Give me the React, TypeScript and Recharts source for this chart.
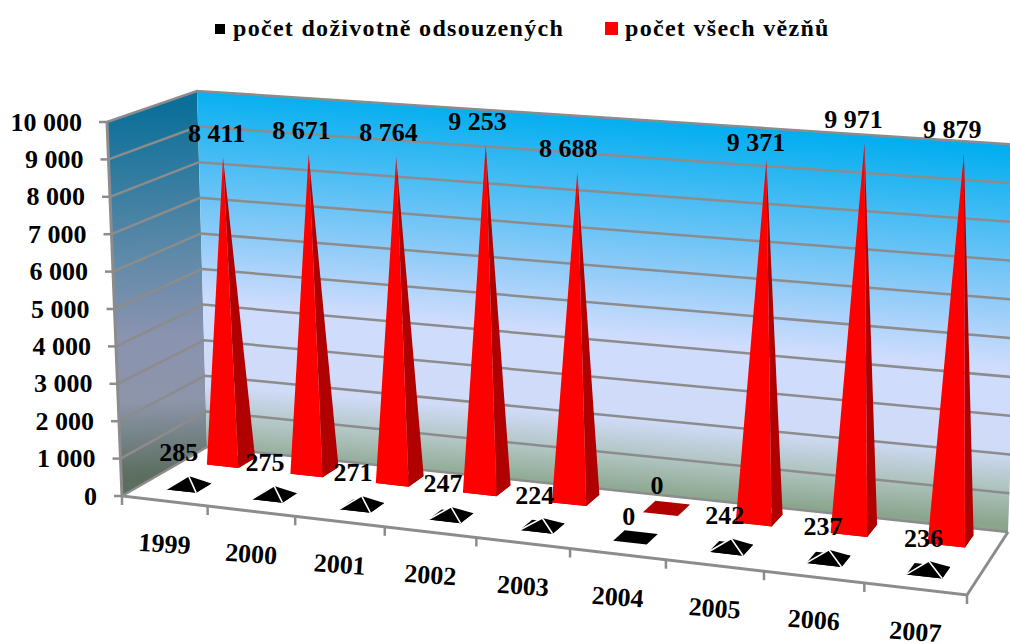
import React from "react";
import {
  Bar,
  BarChart,
  Customized,
  LabelList,
  Legend,
  XAxis,
  YAxis,
} from "recharts";

const years = ["1999", "2000", "2001", "2002", "2003", "2004", "2005", "2006", "2007"];
const lifers = [285, 275, 271, 247, 224, 0, 242, 237, 236];
const prisoners = [8411, 8671, 8764, 9253, 8688, 0, 9371, 9971, 9879];
const yTicks = [0, 1000, 2000, 3000, 4000, 5000, 6000, 7000, 8000, 9000, 10000];
const yMax = 10000;

const chartData = years.map((year, i) => ({ year, lifers: lifers[i], prisoners: prisoners[i] }));

const W = 1010;
const H = 644;
// y axis (100 wide) and x axis (30 high) take up the rest of the 100px sides
const MARGIN = { top: 100, right: 10, bottom: 70, left: 0 };
const PLOT_LEFT = 100;
const PLOT_W = W - PLOT_LEFT - MARGIN.right;
const PLOT_H = H - MARGIN.top - 100;
const FONT = '"Liberation Serif", serif';
const GREY = "#8c8c8c";

type Pt = [number, number];

// unit square -> quad, order: front-left, front-right, back-right, back-left
function homography([p0, p1, p2, p3]: Pt[]) {
  const dx1 = p1[0] - p2[0];
  const dx2 = p3[0] - p2[0];
  const sx = p0[0] - p1[0] + p2[0] - p3[0];
  const dy1 = p1[1] - p2[1];
  const dy2 = p3[1] - p2[1];
  const sy = p0[1] - p1[1] + p2[1] - p3[1];
  const den = dx1 * dy2 - dx2 * dy1;
  const g = (sx * dy2 - dx2 * sy) / den;
  const h = (dx1 * sy - sx * dy1) / den;
  const a = p1[0] - p0[0] + g * p1[0];
  const b = p3[0] - p0[0] + h * p3[0];
  const d = p1[1] - p0[1] + g * p1[1];
  const e = p3[1] - p0[1] + h * p3[1];
  return (u: number, t: number): Pt => {
    const w = g * u + h * t + 1;
    return [(a * u + b * t + p0[0]) / w, (d * u + e * t + p0[1]) / w];
  };
}

const floorAt = homography([[122, 496], [967, 595], [1008, 532], [207, 447]]);
const ceilAt = homography([[107, 122], [985, 180], [1022, 145], [197, 91]]);

// u: along the years, t: depth (0 front, 1 back), v: value share of the axis
// the small bends in u fit the spacing seen in the picture
function project(u: number, t: number, v: number): Pt {
  const f = floorAt(u + 0.047 * u * (1 - u), t);
  const c = ceilAt(u - 0.079 * u * (1 - u), t);
  return [f[0] + (c[0] - f[0]) * v, f[1] + (c[1] - f[1]) * v];
}

const toU = (x: number) => (x - PLOT_LEFT) / PLOT_W;
const toV = (y: number) => (MARGIN.top + PLOT_H - y) / PLOT_H;
const poly = (pts: Pt[]) => pts.map((p) => p.map((n) => n.toFixed(1)).join(",")).join(" ");
const fmt = (n: number) => String(n).replace(/\B(?=(\d{3})+$)/g, "\u00a0");

function Walls() {
  const n = years.length;
  return (
    <g>
      <defs>
        <linearGradient id="backWall" gradientUnits="userSpaceOnUse" x1="610" y1="118" x2="580" y2="490">
          <stop offset="0" stopColor="#03aef0" />
          <stop offset="0.4" stopColor="#8fcbf8" />
          <stop offset="0.58" stopColor="#cfdcfd" />
          <stop offset="0.8" stopColor="#d0dbf8" />
          <stop offset="0.9" stopColor="#b0c4c0" />
          <stop offset="1" stopColor="#8aa58c" />
        </linearGradient>
        <linearGradient id="sideWall" gradientUnits="userSpaceOnUse" x1="150" y1="105" x2="165" y2="475">
          <stop offset="0" stopColor="#0a6f99" />
          <stop offset="0.4" stopColor="#5d89a8" />
          <stop offset="0.62" stopColor="#8a93b0" />
          <stop offset="0.8" stopColor="#8d95aa" />
          <stop offset="1" stopColor="#5b6e5f" />
        </linearGradient>
      </defs>
      <polygon fill="url(#sideWall)" points={poly([project(0, 0, 0), project(0, 1, 0), project(0, 1, 1), project(0, 0, 1)])} />
      <polygon fill="url(#backWall)" points={poly([project(0, 1, 0), project(1, 1, 0), project(1, 1, 1), project(0, 1, 1)])} />
      {yTicks.map((t) => {
        const v = t / yMax;
        return (
          <polyline
            key={t}
            fill="none"
            stroke={GREY}
            strokeWidth={2.5}
            points={poly([project(0, 0, v), project(0, 1, v), project(1, 1, v)])}
          />
        );
      })}
      <polyline fill="none" stroke={GREY} strokeWidth={3} points={poly([project(0, 0, 1), project(0, 0, 0), project(1, 0, 0), project(1, 1, 0)])} />
      {Array.from({ length: n + 1 }, (_, i) => {
        const p = project(i / n, 0, 0);
        return <line key={i} x1={p[0]} y1={p[1]} x2={p[0]} y2={p[1] + 9} stroke={GREY} strokeWidth={2.5} />;
      })}
    </g>
  );
}

function Pyramid({ x, y, width, row, halfDepth, widthScale, face, side, edge }: any) {
  const u = toU(x + width / 2);
  const half = (toU(x + width) - toU(x)) / 2 * widthScale;
  const fl = project(u - half, row - halfDepth, 0);
  const fr = project(u + half, row - halfDepth, 0);
  const br = project(u + half, row + halfDepth, 0);
  const bl = project(u - half, row + halfDepth, 0);
  const v = toV(y);
  const apex = project(u, row, v);
  return (
    <g>
      <polygon fill={side} points={poly([fl, fr, br, bl])} />
      {v > 0.001 && <polygon fill={side} points={poly([fr, br, apex])} />}
      {v > 0.001 && <polygon fill={face} points={poly([fl, fr, apex])} />}
      {edge && v > 0.001 && (
        <polyline fill="none" stroke={edge} strokeWidth={1.6} points={poly([fl, apex, fr])} />
      )}
    </g>
  );
}

function ValueLabel({ x, y, width, value, index, row, rise, zeroRise, dxLeft, dxRight }: any) {
  const u = toU(x + width / 2);
  const [px, py] = project(u, row, toV(y));
  // 9 371 sits lower over its peak than the other labels
  const up = value === 0 ? zeroRise : years[index] === "2005" && value > 1000 ? 17 : rise;
  return (
    <text x={px + dxLeft + (dxRight - dxLeft) * u} y={py - up} textAnchor="middle" dominantBaseline="central" fontFamily={FONT} fontWeight="bold" fontSize={26} fill="#000">
      {fmt(value)}
    </text>
  );
}

function YearTick({ x, payload }: any) {
  const [px, py] = project(toU(x), 0, 0);
  const ty = py + 43;
  return (
    <text x={px} y={ty} transform={`rotate(4 ${px} ${ty})`} textAnchor="middle" dominantBaseline="central" fontFamily={FONT} fontWeight="bold" fontSize={26} fill="#000">
      {payload.value}
    </text>
  );
}

function ValueTick({ y, payload }: any) {
  const [px, py] = project(0, 0, toV(y));
  return (
    <g>
      <line x1={px - 8} y1={py} x2={px} y2={py} stroke={GREY} strokeWidth={2.5} />
      <text x={px - 25} y={py} textAnchor="end" dominantBaseline="central" fontFamily={FONT} fontWeight="bold" fontSize={26} fill="#000">
        {fmt(payload.value)}
      </text>
    </g>
  );
}

function ChartLegend() {
  const text: React.CSSProperties = {
    position: "absolute",
    top: 12,
    fontFamily: FONT,
    fontWeight: "bold",
    fontSize: 24,
    lineHeight: "32px",
    letterSpacing: 1.3,
    whiteSpace: "nowrap",
    color: "#000",
  };
  return (
    <div style={{ position: "relative", width: W, height: 50 }}>
      <span style={{ position: "absolute", left: 215, top: 24, width: 10, height: 10, background: "#000" }} />
      <span style={{ ...text, left: 233 }}>počet doživotně odsouzených</span>
      <span style={{ position: "absolute", left: 605, top: 22, width: 13, height: 13, background: "#ff0000" }} />
      <span style={{ ...text, left: 625 }}>počet všech vězňů</span>
    </div>
  );
}

export default function App() {
  return (
    <div style={{ position: "absolute", left: 0, top: 0, width: W, height: H, overflow: "hidden" }}>
      <BarChart width={W} height={H} data={chartData} margin={MARGIN} barSize={38} barGap={-38}>
        <Customized component={Walls} />
        <XAxis dataKey="year" height={30} axisLine={false} tickLine={false} tick={<YearTick />} interval={0} />
        <YAxis domain={[0, yMax]} ticks={yTicks} width={100} axisLine={false} tickLine={false} tick={<ValueTick />} interval={0} />
        {/* middle keeps the legend out of the plot offset, wrapperStyle puts it back on top */}
        <Legend layout="horizontal" align="center" verticalAlign="middle" content={<ChartLegend />} wrapperStyle={{ left: 0, top: 0, width: W }} />
        <Bar
          dataKey="prisoners"
          name="počet všech vězňů"
          isAnimationActive={false}
          shape={(p: any) => <Pyramid {...p} row={0.79} halfDepth={0.105} widthScale={1} face="#ff0000" side="#b00000" />}
        >
          <LabelList dataKey="prisoners" content={<ValueLabel row={0.79} rise={24} zeroRise={23} dxLeft={-6} dxRight={-12} />} />
        </Bar>
        <Bar
          dataKey="lifers"
          name="počet doživotně odsouzených"
          isAnimationActive={false}
          shape={(p: any) => <Pyramid {...p} row={0.28} halfDepth={0.09} widthScale={0.93} face="#000" side="#000" edge="#fff" />}
        >
          <LabelList dataKey="lifers" content={<ValueLabel row={0.28} rise={23} zeroRise={21} dxLeft={-10} dxRight={-5} />} />
        </Bar>
      </BarChart>
    </div>
  );
}
